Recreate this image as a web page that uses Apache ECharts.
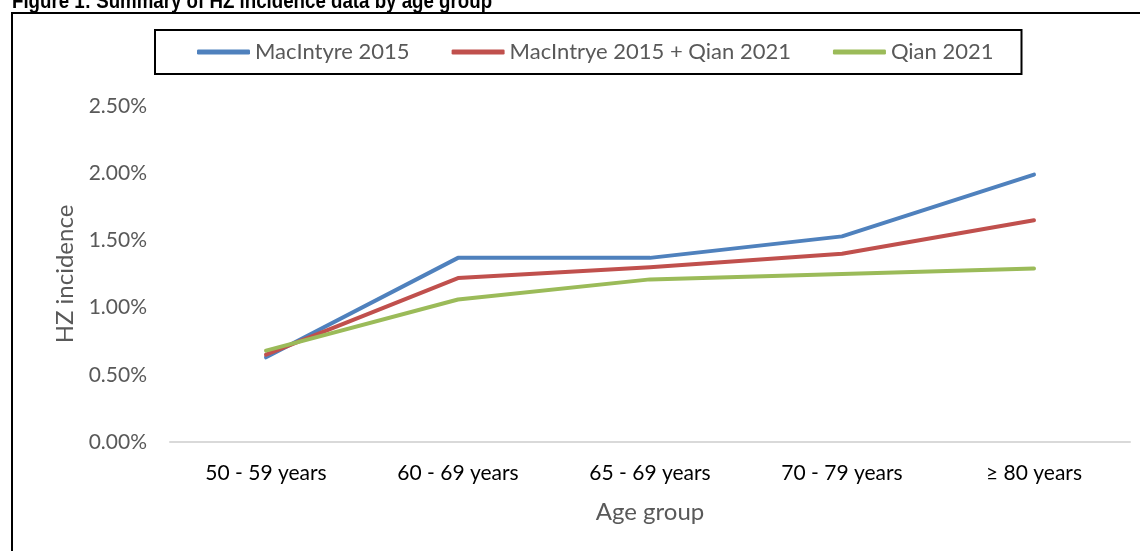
<!DOCTYPE html>
<html><head><meta charset="utf-8">
<script src="https://cdn.jsdelivr.net/npm/echarts@6/dist/echarts.min.js"></script>
<style>html,body{margin:0;padding:0;background:#fff}#c{width:1140px;height:551px}</style>
</head><body><div id="c"></div>
<script>
const categories = ['50 - 59 years', '60 - 69 years', '65 - 69 years', '70 - 79 years', '\u2265 80 years'];
const macIntyre = [0.63, 1.37, 1.37, 1.53, 1.99];
const combined = [0.65, 1.22, 1.30, 1.40, 1.65];
const qian = [0.68, 1.06, 1.21, 1.25, 1.29];
const seriesNames = ['MacIntyre 2015', 'MacIntrye 2015 + Qian 2021', 'Qian 2021'];
const yTicks = [0, 0.5, 1, 1.5, 2, 2.5];

const colors = ['#4F81BD', '#C0504D', '#9BBB59'];
const font = 'Lato, "Open Sans", sans-serif';
const chart = echarts.init(document.getElementById('c'));
function mk(name, data, i) {
  return { name, type: 'line', data, symbol: 'none', showSymbol: false,
    lineStyle: { width: 4, color: colors[i], cap: 'round', join: 'round' },
    itemStyle: { color: colors[i] } };
}
chart.setOption({
  animation: false,
  backgroundColor: '#fff',
  graphic: [
    { type: 'rect', shape: { x: 12, y: 13, width: 1140, height: 560 }, style: { fill: 'none', stroke: '#000', lineWidth: 2 } },
    { type: 'text', x: 12, y: -9, scaleX: 0.85, style: { text: 'Figure 1: Summary of HZ incidence data by age group', font: 'bold 22px "Liberation Sans", Arial, sans-serif', fill: '#000' } }
  ],
  legend: {
    left: 155, top: 30, orient: 'horizontal',
    borderColor: '#000', borderWidth: 2,
    padding: [11, 28, 11, 42],
    itemGap: 42, itemWidth: 53, itemHeight: 5, icon: 'roundRect',
    textStyle: { fontFamily: font, fontSize: 22, color: '#595959' },
    data: seriesNames
  },
  grid: { left: 170, right: 10, top: 106, bottom: 109, containLabel: false },
  xAxis: {
    type: 'category', data: categories, boundaryGap: true,
    axisLine: { lineStyle: { color: '#D9D9D9', width: 2 } },
    axisTick: { show: false },
    axisLabel: { color: '#000', fontFamily: font, fontSize: 21, margin: 21 },
    name: 'Age group', nameLocation: 'middle', nameGap: 58,
    nameTextStyle: { color: '#595959', fontFamily: font, fontSize: 24 }
  },
  yAxis: {
    type: 'value', min: yTicks[0], max: yTicks[yTicks.length - 1], interval: 0.5,
    axisLine: { show: false }, axisTick: { show: false }, splitLine: { show: false },
    axisLabel: { color: '#595959', fontFamily: font, fontSize: 21, margin: 23,
      formatter: v => v.toFixed(2) + '%' },
    name: 'HZ incidence', nameLocation: 'middle', nameGap: 93, nameRotate: 90,
    nameTextStyle: { color: '#595959', fontFamily: font, fontSize: 24 }
  },
  series: [mk(seriesNames[0], macIntyre, 0), mk(seriesNames[1], combined, 1), mk(seriesNames[2], qian, 2)]
});
</script></body></html>
